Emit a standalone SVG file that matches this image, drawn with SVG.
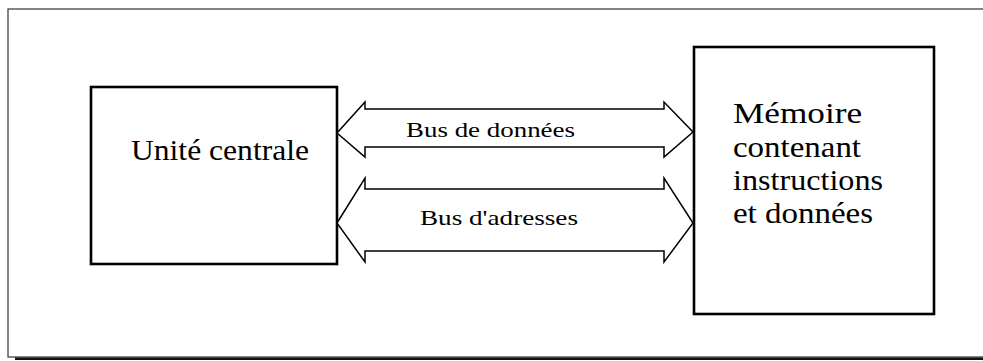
<svg xmlns="http://www.w3.org/2000/svg" width="983" height="361" viewBox="0 0 983 361">
  <style>
    .frame { fill: none; stroke: #333; stroke-width: 1.2; }
    .shadow { stroke: #111; stroke-width: 2.6; }
    .box { fill: #fff; stroke: #000; stroke-width: 2.6; }
    .bus { fill: #fff; stroke: #000; stroke-width: 1.5; stroke-linejoin: miter; }
    .label { font-family: "Liberation Serif", "Times New Roman", serif; fill: #000; }
    .big { font-size: 30px; }
    .small { font-size: 22px; }
  </style>
  <rect width="983" height="361" fill="#fff"/>

  <!-- outer frame with drop shadow along the bottom -->
  <rect class="frame" x="8" y="9" width="1000" height="348"/>
  <line class="shadow" x1="15" y1="358.7" x2="983" y2="358.7"/>

  <g id="cpu">
    <rect class="box" x="91" y="87" width="246" height="177"/>
    <text class="label big" x="131" y="160" textLength="178" lengthAdjust="spacingAndGlyphs">Unité centrale</text>
  </g>

  <g id="memory">
    <rect class="box" x="694" y="47" width="240" height="267"/>
    <text class="label big" x="733" y="123" textLength="129" lengthAdjust="spacingAndGlyphs">Mémoire</text>
    <text class="label big" x="733" y="157" textLength="128" lengthAdjust="spacingAndGlyphs">contenant</text>
    <text class="label big" x="733" y="190" textLength="150" lengthAdjust="spacingAndGlyphs">instructions</text>
    <text class="label big" x="733" y="223" textLength="140" lengthAdjust="spacingAndGlyphs">et données</text>
  </g>

  <g id="connectors">
    <g id="data-bus">
      <polygon class="bus" points="337,133 365,102 365,109 664,109 664,102 693,132 664,157 664,147 365,147 365,157"/>
      <text class="label small" x="406" y="137" textLength="169" lengthAdjust="spacingAndGlyphs">Bus de données</text>
    </g>
    <g id="address-bus">
      <polygon class="bus" points="337,223 365,178 365,189 664,189 664,178 693,223 664,262 664,251 365,251 365,262"/>
      <text class="label small" x="420" y="225" textLength="158" lengthAdjust="spacingAndGlyphs">Bus d'adresses</text>
    </g>
  </g>
</svg>
